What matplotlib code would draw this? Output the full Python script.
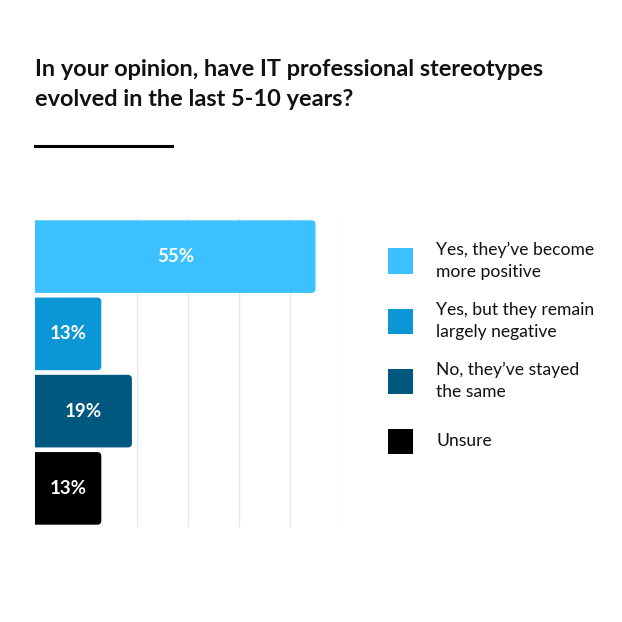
import matplotlib
matplotlib.use("Agg")
import matplotlib.pyplot as plt
from matplotlib.patches import Rectangle, FancyBboxPatch
from matplotlib.lines import Line2D

# Data
categories = [
  "Yes, they\u2019ve become\nmore positive",
  "Yes, but they remain\nlargely negative",
  "No, they\u2019ve stayed\nthe same",
  "Unsure",
]
values = [55, 13, 19, 13]
colors = ["#3bc1fd", "#0b96d5", "#01587e", "#000000"]
title = "In your opinion, have IT professional stereotypes\nevolved in the last 5-10 years?"

W, H = 622, 622
fig = plt.figure(figsize=(W / 100, H / 100), dpi=100)
fig.patch.set_facecolor("white")

def fx(px):
  return px / W

def fy(py):
  return 1 - py / H

# Bar area: x 35..341 px, y 218..527 px
ax = fig.add_axes([fx(35), fy(527), fx(341) - fx(35), fy(218) - fy(527)])
y = list(range(len(values)))
bars = ax.barh(y, values, height=0.94, color=colors, zorder=2)
ax.set_xlim(0, 60)
ax.set_ylim(len(values) - 0.5, -0.5)
ax.set_xticks([20, 30, 40, 50, 60])
ax.grid(axis="x", color="#e8e8e8", linewidth=1, zorder=0)
ax.tick_params(left=False, bottom=False, labelleft=False, labelbottom=False)
for s in ax.spines.values():
  s.set_visible(False)

# swap plain bars for ones with slightly rounded right corners
px_x = 306 / 60.0
px_y = 309 / 4.0
for b in bars:
  b.set_visible(False)
  rb = FancyBboxPatch((b.get_x() - 2, b.get_y()), b.get_width() + 2, b.get_height(),
                      boxstyle="round,pad=0,rounding_size=0.8",
                      mutation_aspect=px_x / px_y,
                      facecolor=b.get_facecolor(), edgecolor="none", zorder=2)
  ax.add_patch(rb)

for b, v in zip(bars, values):
  ax.text(v / 2, b.get_y() + b.get_height() / 2, f"{v}%",
          ha="center", va="center", color="white",
          fontsize=13.5, fontweight="bold", family="Lato", zorder=3)

# Title
fig.text(fx(35), fy(59), title, ha="left", va="top", fontsize=16.9,
         fontweight="bold", family="Lato", color="#111111", linespacing=1.5)
fig.add_artist(Line2D([fx(35), fx(172)], [fy(146), fy(146)],
                      color="black", linewidth=2.2))

# Legend
for i, (lab, c) in enumerate(zip(categories, colors)):
  cy = 261 + 60 * i
  fig.add_artist(Rectangle((fx(388), fy(cy + 12.5)), fx(25), fx(25),
                           facecolor=c, edgecolor="none",
                           transform=fig.transFigure))
  fig.text(fx(436), fy(cy), lab, ha="left", va="center", fontsize=12.6,
           family="Lato", color="#111111", linespacing=1.5)

fig.savefig("out.png", dpi=100, facecolor="white")
